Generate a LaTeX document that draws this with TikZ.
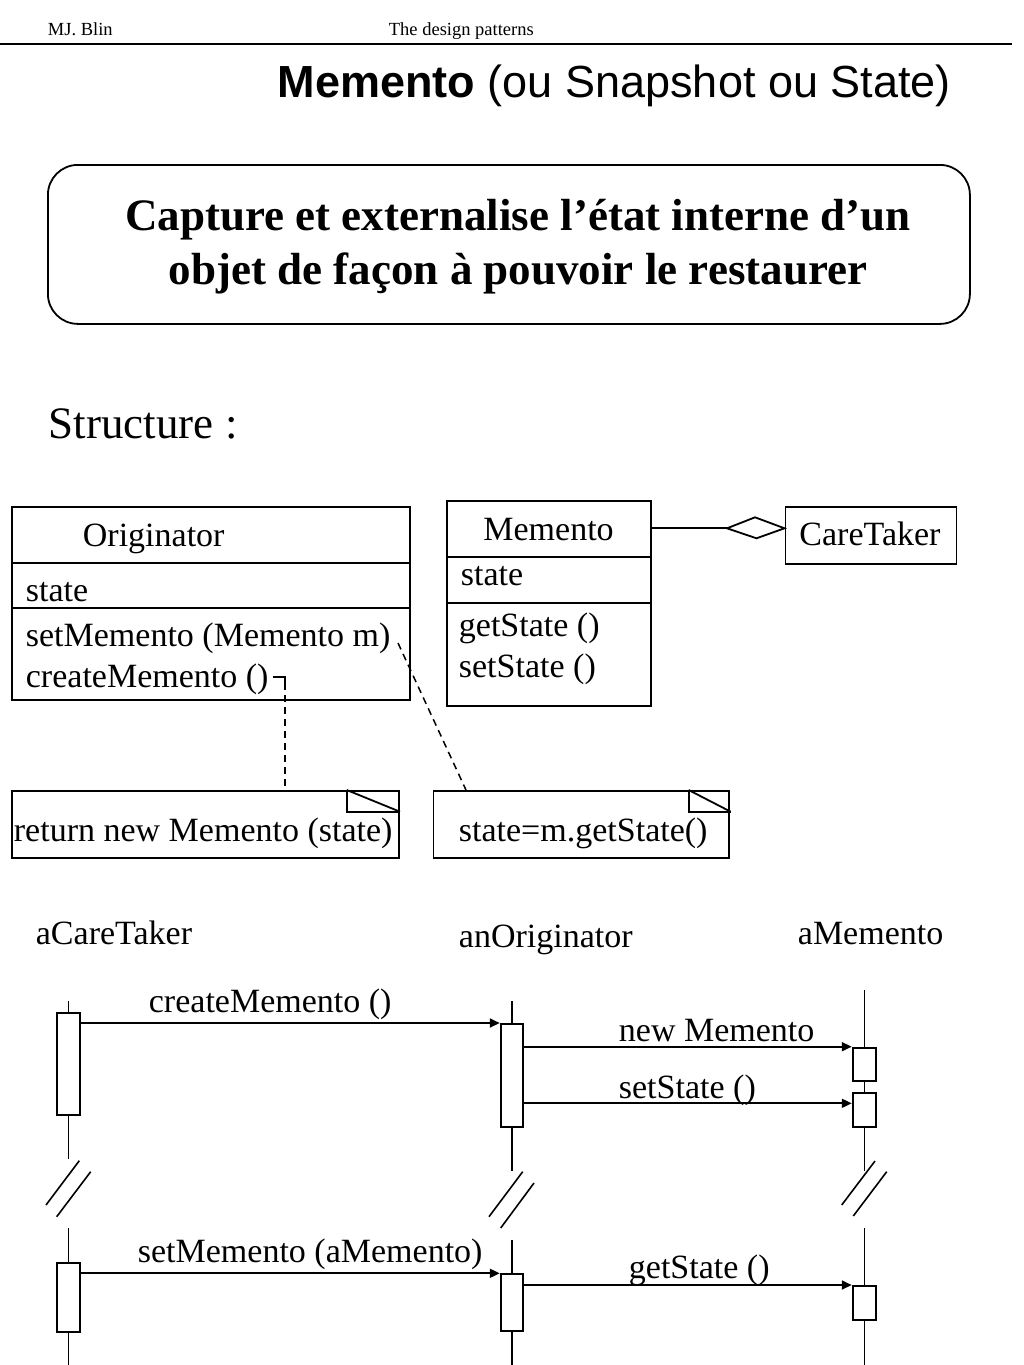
\documentclass[tikz,border=0pt]{standalone}
\usepackage{fontspec}
\setmainfont{Liberation Serif}
\newfontfamily\titlefont{Liberation Sans}
\usetikzlibrary{arrows.meta,calc}
\begin{document}
\begin{tikzpicture}[x=1pt,y=-1pt,line width=1.8pt,
  txt/.style={anchor=base west,inner sep=0pt,font=\fontsize{34}{40}\selectfont},
  big/.style={anchor=base west,inner sep=0pt,font=\fontsize{45}{54}\selectfont},
  hdr/.style={anchor=base west,inner sep=0pt,font=\fontsize{18.5}{22}\selectfont},
  umlbox/.style={draw,line width=1.8pt,inner sep=0pt,anchor=north west},
  act/.style={draw,fill=white,inner sep=0pt,anchor=north,line width=1.8pt},
  msg/.style={line width=1.8pt,-{Triangle[length=10pt,width=9pt]}},
  life/.style={line width=1.6pt},
  brk/.style={line width=1.6pt},
  dsh/.style={line width=1.5pt,dash pattern=on 7pt off 5pt},
]
\useasboundingbox (0,0) rectangle (1024,1365);
\fill[white] (0,0) rectangle (1024,1365);

% header
\node[hdr] (hA) at (47,35) {MJ. Blin};
\node[hdr] (hB) at (388,35) {The design patterns};
\draw[line width=2.4pt] (0,44) -- (1012,44);
\node[anchor=base west,inner sep=0pt,font=\titlefont\fontsize{45}{54}\selectfont] (title) at (277,97) {\textbf{Memento} (ou Snapshot ou State)};

% intent box
\node[draw,line width=1.8pt,rounded corners=30pt,minimum width=922pt,minimum height=159pt,anchor=north west,inner sep=0pt] (intent) at (47,164) {};
\node[anchor=base,inner sep=0pt,font=\fontsize{45}{54}\selectfont\bfseries] (l1) at (518,230) {Capture et externalise l’état interne d’un};
\node[anchor=base,inner sep=0pt,font=\fontsize{45}{54}\selectfont\bfseries] (l2) at (518,284) {objet de façon à pouvoir le restaurer};

\node[big] (struct) at (48,438) {Structure :};

% Originator class
\node[umlbox,minimum width=398.3pt,minimum height=193.6pt] (orig) at (11,505.7) {};
\draw (orig.west |- 0,562.7) -- (orig.east |- 0,562.7);
\draw (orig.west |- 0,608.3) -- (orig.east |- 0,608.3);
\node[txt] (oN) at (82,546.5) {Originator};
\node[txt] (oA) at (25,601.5) {state};
\node[txt] (oM1) at (25,646.5) {setMemento (Memento m)};
\node[txt] (oM2) at (25,687) {createMemento ()};

% Memento class
\node[umlbox,minimum width=204pt,minimum height=205pt] (mem) at (446,500) {};
\draw (mem.west |- 0,556.7) -- (mem.east |- 0,556.7);
\draw (mem.west |- 0,602.7) -- (mem.east |- 0,602.7);
\node[txt] (mN) at (482.5,540) {Memento};
\node[txt] (mA) at (460,585) {state};
\node[txt] (mM1) at (458,636.5) {getState ()};
\node[txt] (mM2) at (458,677.5) {setState ()};

% CareTaker class
\node[umlbox,minimum width=171pt,minimum height=57pt] (ct) at (784.5,505.7) {};
\node[txt] (ctN) at (798.5,545) {CareTaker};

% aggregation
\coordinate (dm) at (727,528.3);
\draw (mem.east |- dm) -- (dm);
\draw[fill=white] (dm) -- ++(28,-11) -- (ct.west |- dm) -- ++(-28,10) -- cycle;

% notes
\node[umlbox,minimum width=387.3pt,minimum height=66.7pt] (n1) at (11,790) {};
\draw (346.7,790) -- (346.7,811.7) -- (400,811.7);
\draw (346.7,790) -- (400,811.7);
\node[txt] (n1t) at (13,841) {return new Memento (state)};

\node[umlbox,minimum width=295.4pt,minimum height=66.7pt] (n2) at (432.5,790) {};
\draw (688.6,790) -- (688.6,811.7) -- (730.7,811.7);
\draw (688.6,790) -- (730.7,811.7);
\node[txt] (n2t) at (458,841) {state=m.getState()};

% note links
\coordinate (hk) at (273,677);
\draw[line width=1.5pt] (hk) -- (285,677) -- (285,683);
\draw[dsh] (285,683) -- (n1.north -| 285,0);
\draw[dsh] (398,643) -- (n2.north -| 466,0);

% sequence: object labels
\node[txt] (sCT) at (35,944) {aCareTaker};
\node[txt] (sOR) at (458,947) {anOriginator};
\node[txt] (sM) at (797,944) {aMemento};

% activation boxes
\node[act,minimum width=23.3pt,minimum height=102pt] (ct1) at (68.3,1012) {};
\node[act,minimum width=22.7pt,minimum height=103pt] (or1) at (512,1023) {};
\node[act,minimum width=23.3pt,minimum height=33.3pt] (m1) at (864.3,1046.7) {};
\node[act,minimum width=23.3pt,minimum height=34pt] (m2) at (864.3,1092) {};
\node[act,minimum width=23.3pt,minimum height=68.4pt] (ct2) at (68.3,1262.3) {};
\node[act,minimum width=22.7pt,minimum height=56.7pt] (or2) at (512,1273.3) {};
\node[act,minimum width=23.3pt,minimum height=34pt] (m3) at (864.3,1285) {};

% lifelines
\draw[life] (68.3,1001) -- (ct1.north);
\draw[life] (ct1.south) -- (68.3,1159);
\draw[life] (68.3,1228) -- (ct2.north);
\draw[life] (ct2.south) -- (68.3,1365);
\draw[life] (512,1001) -- (or1.north);
\draw[life] (or1.south) -- (512,1171);
\draw[life] (512,1240) -- (or2.north);
\draw[life] (or2.south) -- (512,1365);
\draw[life] (864.3,990) -- (m1.north);
\draw[life] (m1.south) -- (m2.north);
\draw[life] (m2.south) -- (864.3,1171);
\draw[life] (864.3,1228) -- (m3.north);
\draw[life] (m3.south) -- (864.3,1365);

% break marks
\draw[brk] (46,1205) -- (79.3,1160.7);
\draw[brk] (56.7,1216.7) -- (90.7,1171.7);
\draw[brk] (489,1216.7) -- (522.7,1171.7);
\draw[brk] (500.7,1228) -- (534,1183);
\draw[brk] (841.7,1205) -- (875,1161);
\draw[brk] (853.3,1216) -- (886.7,1171.7);

% messages
\draw[msg] (ct1.east |- or1.north) -- (or1.north west);
\draw[msg] (or1.east |- m1.north) -- (m1.north west);
\draw[msg] (or1.east |- 0,1103.3) -- (m2.west |- 0,1103.3);
\draw[msg] (ct2.east |- or2.north) -- (or2.north west);
\draw[msg] (or2.east |- m3.north) -- (m3.north west);

\node[txt] (lb1) at (148,1012) {createMemento ()};
\node[txt] (lb2) at (618,1041) {new Memento};
\node[txt] (lb3) at (618,1098) {setState ()};
\node[txt] (lb4) at (137,1262) {setMemento (aMemento)};
\node[txt] (lb5) at (628,1278.5) {getState ()};
\end{tikzpicture}
\end{document}
